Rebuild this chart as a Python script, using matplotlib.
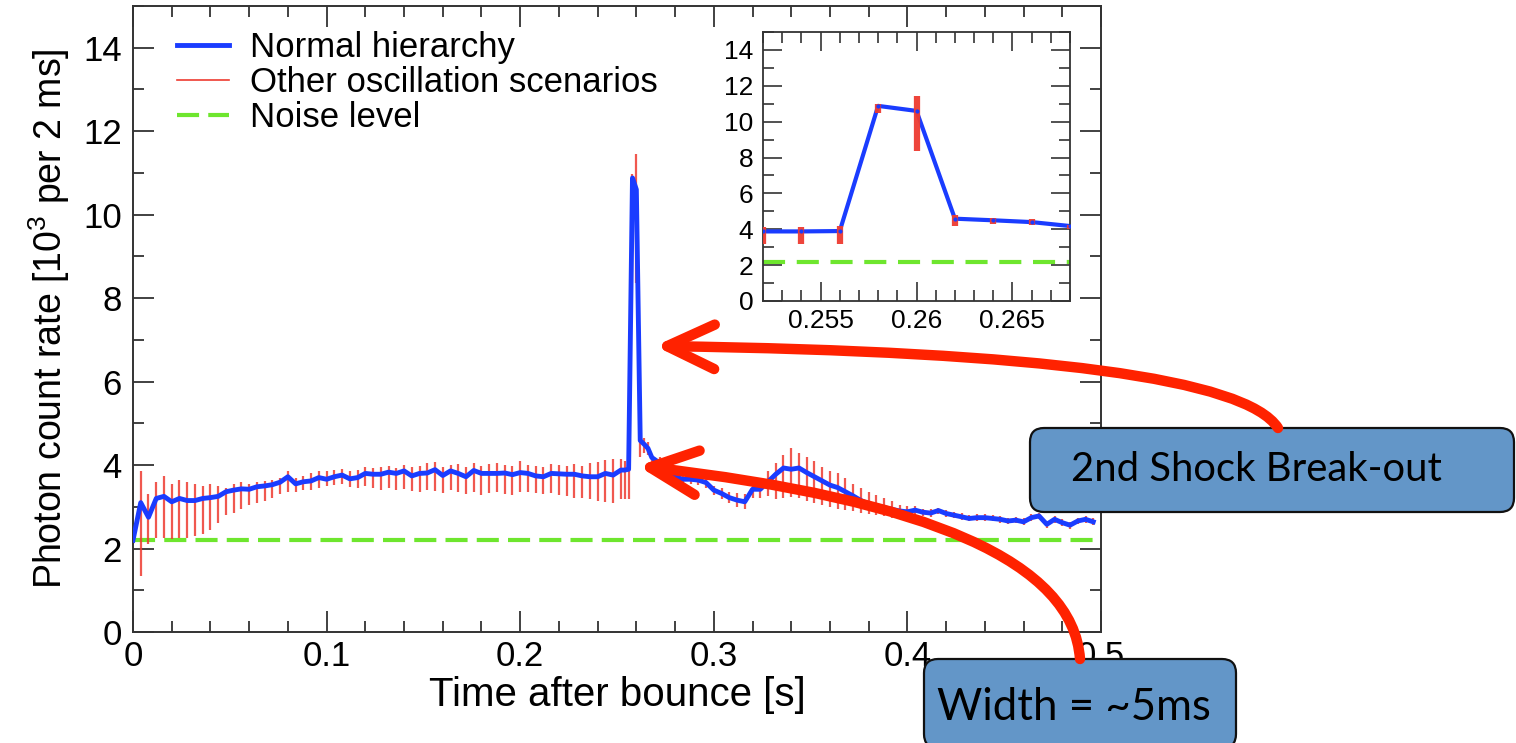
import numpy as np
import matplotlib
matplotlib.use("Agg")
import matplotlib.pyplot as plt
from matplotlib.patches import FancyArrowPatch, FancyBboxPatch
from matplotlib.path import Path
from matplotlib.transforms import IdentityTransform
from matplotlib.ticker import MultipleLocator, FixedLocator, FormatStrFormatter

plt.rcParams['font.family'] = ['Liberation Sans', 'DejaVu Sans']
plt.rcParams['mathtext.fontset'] = 'custom'
plt.rcParams['mathtext.rm'] = 'Liberation Sans'
plt.rcParams['mathtext.default'] = 'regular'

# time bins (s): 4 ms steps, 2 ms steps around the break-out peak
time = np.concatenate([
    np.arange(0, 0.2521, 0.004),
    [0.254, 0.256, 0.258, 0.260, 0.262, 0.264, 0.266, 0.268],
    np.arange(0.272, 0.4961, 0.004),
])

# normal hierarchy count rate [10^3 per 2 ms]
normal = [
    2.20, 3.10, 2.75, 3.20, 3.25, 3.12, 3.20, 3.15, 3.15, 3.20,
    3.22, 3.25, 3.36, 3.40, 3.43, 3.42, 3.48, 3.50, 3.53, 3.59,
    3.72, 3.55, 3.60, 3.62, 3.70, 3.66, 3.72, 3.76, 3.67, 3.70,
    3.80, 3.78, 3.78, 3.83, 3.80, 3.86, 3.74, 3.80, 3.81, 3.89,
    3.75, 3.86, 3.80, 3.72, 3.87, 3.80, 3.80, 3.80, 3.81, 3.77,
    3.82, 3.80, 3.74, 3.72, 3.80, 3.79, 3.78, 3.78, 3.74, 3.72,
    3.72, 3.80, 3.76, 3.88,
    3.88, 3.90, 10.88, 10.60, 4.59, 4.50, 4.40, 4.18,
    4.05, 3.85, 3.72, 3.66, 3.66, 3.64, 3.58, 3.40, 3.32, 3.22,
    3.16, 3.12, 3.42, 3.42, 3.60, 3.78, 3.93, 3.90, 3.93, 3.82,
    3.72, 3.62, 3.52, 3.46, 3.36, 3.26, 3.15, 3.07, 3.03, 2.98,
    2.94, 2.90, 2.88, 2.92, 2.87, 2.85, 2.91, 2.84, 2.80, 2.76,
    2.72, 2.74, 2.74, 2.72, 2.70, 2.66, 2.68, 2.64, 2.74, 2.78,
    2.58, 2.70, 2.62, 2.56, 2.66, 2.70, 2.64,
]

# range covered by the other oscillation scenarios
other_lo = [
    2.10, 1.35, 2.10, 2.25, 2.25, 2.22, 2.25, 2.25, 2.30, 2.35,
    2.45, 2.60, 2.80, 2.85, 2.95, 3.05, 3.10, 3.15, 3.20, 3.30,
    3.35, 3.35, 3.40, 3.40, 3.45, 3.50, 3.52, 3.55, 3.48, 3.45,
    3.50, 3.45, 3.40, 3.45, 3.40, 3.42, 3.38, 3.35, 3.40, 3.38,
    3.32, 3.40, 3.35, 3.30, 3.35, 3.28, 3.32, 3.35, 3.30, 3.28,
    3.35, 3.35, 3.32, 3.30, 3.32, 3.28, 3.25, 3.22, 3.20, 3.18,
    3.15, 3.12, 3.10, 3.18,
    3.18, 3.18, 10.50, 8.37, 4.20, 4.30, 4.25, 4.00,
    3.95, 3.75, 3.60, 3.55, 3.55, 3.52, 3.45, 3.28, 3.18, 3.08,
    3.00, 2.95, 3.20, 3.20, 3.25, 3.18, 3.20, 3.24, 3.20, 3.15,
    3.10, 3.05, 3.00, 2.95, 2.92, 2.90, 2.85, 2.82, 2.80, 2.78,
    2.74, 2.72, 2.75, 2.80, 2.78, 2.76, 2.82, 2.76, 2.72, 2.68,
    2.65, 2.67, 2.67, 2.65, 2.62, 2.58, 2.60, 2.56, 2.66, 2.70,
    2.50, 2.62, 2.55, 2.48, 2.58, 2.62, 2.56,
]
other_hi = [
    2.30, 3.85, 3.30, 3.60, 3.73, 3.55, 3.65, 3.60, 3.55, 3.50,
    3.55, 3.50, 3.45, 3.55, 3.60, 3.55, 3.60, 3.62, 3.65, 3.70,
    3.85, 3.70, 3.75, 3.80, 3.85, 3.85, 3.88, 3.90, 3.85, 3.88,
    3.95, 3.92, 3.95, 3.98, 3.92, 4.00, 3.95, 3.98, 4.05, 4.08,
    3.95, 4.00, 4.02, 3.95, 4.05, 3.98, 4.02, 4.05, 4.00, 3.98,
    4.10, 4.00, 3.98, 3.95, 4.02, 4.00, 3.98, 4.02, 3.98, 4.05,
    4.08, 4.12, 4.15, 4.15,
    4.10, 4.20, 10.98, 11.45, 4.80, 4.65, 4.56, 4.25,
    4.20, 3.95, 3.82, 3.75, 3.75, 3.75, 3.70, 3.50, 3.45, 3.35,
    3.32, 3.30, 3.55, 3.60, 3.85, 4.05, 4.25, 4.40, 4.30, 4.20,
    4.10, 3.95, 3.85, 3.80, 3.70, 3.55, 3.45, 3.35, 3.28, 3.20,
    3.15, 3.05, 3.02, 3.02, 2.95, 2.94, 2.98, 2.92, 2.88, 2.84,
    2.80, 2.82, 2.82, 2.80, 2.78, 2.74, 2.76, 2.72, 2.82, 2.86,
    2.66, 2.78, 2.70, 2.64, 2.74, 2.78, 2.72,
]

noise_level = 2.2

t = np.array(time)
y = np.array(normal)
lo = np.array(other_lo)
hi = np.array(other_hi)

W, H = 1516, 743
fig = plt.figure(figsize=(W / 100, H / 100), dpi=100)
fig.patch.set_facecolor('white')

BLUE = '#1a3cff'
RED = '#ee3b30'
GREEN = '#6ee62e'
SPINE = '#333333'

# ---- main panel
ax = fig.add_axes([133 / W, 1 - 632 / H, (1101 - 133) / W, (632 - 6) / H])
ax.vlines(t, lo, hi, color=RED, lw=1.6, alpha=0.85, zorder=2)
ax.plot(t, y, color=BLUE, lw=3.5, zorder=3, label='Normal hierarchy')
ax.plot([], [], color=RED, lw=1.2, label='Other oscillation scenarios')
ax.axhline(noise_level, color=GREEN, lw=3, dashes=(5.3, 2.2), zorder=1,
           label='Noise level')
ax.set_xlim(0, 0.5)
ax.set_ylim(0, 15)
ax.xaxis.set_major_locator(MultipleLocator(0.1))
ax.xaxis.set_minor_locator(MultipleLocator(0.02))
ax.xaxis.set_major_formatter(FormatStrFormatter('%g'))
ax.yaxis.set_major_locator(FixedLocator(np.arange(0, 15, 2)))
ax.yaxis.set_minor_locator(MultipleLocator(1))
ax.tick_params(which='both', direction='in', top=True, right=True,
               color=SPINE, width=1.3, labelsize=25)
ax.tick_params(which='major', length=15)
ax.tick_params(which='minor', length=8)
ax.tick_params(axis='y', pad=8)
ax.tick_params(axis='x', pad=6)
for s in ax.spines.values():
    s.set_color(SPINE)
    s.set_linewidth(1.4)
ax.set_xlabel('Time after bounce [s]', fontsize=29, labelpad=2)
ax.set_ylabel(r'Photon count rate [10$^3$ per 2 ms]', fontsize=27, labelpad=8)
ax.legend(loc='upper left', bbox_to_anchor=(0.031, 0.982), borderaxespad=0,
          frameon=False, fontsize=25, handlelength=1.5, handletextpad=0.6,
          labelspacing=0.06)

# ---- inset zoom on the break-out peak
ins = fig.add_axes([763 / W, 1 - 301 / H, (1070 - 763) / W, (301 - 32) / H])
m = (t > 0.2515) & (t < 0.2685)
ins.plot(t[m], y[m], color=BLUE, lw=3, zorder=2)
ins.vlines(t[m], lo[m], hi[m], color=RED, lw=4.5, alpha=0.95, zorder=3)
ins.plot(t[m], y[m], 'o', color=BLUE, ms=2, zorder=4)
ins.axhline(noise_level, color=GREEN, lw=3, dashes=(5.3, 2.8), zorder=1)
ins.set_xlim(0.252, 0.268)
ins.set_ylim(0, 15)
ins.xaxis.set_major_locator(FixedLocator([0.255, 0.26, 0.265]))
ins.xaxis.set_minor_locator(MultipleLocator(0.001))
ins.xaxis.set_major_formatter(FormatStrFormatter('%g'))
ins.yaxis.set_major_locator(FixedLocator(np.arange(0, 15, 2)))
ins.yaxis.set_minor_locator(MultipleLocator(1))
ins.tick_params(which='both', direction='in', top=True, right=True,
                color=SPINE, width=1.2, labelsize=19)
ins.tick_params(which='major', length=14)
ins.tick_params(which='minor', length=8)
ins.tick_params(axis='y', pad=7)
ins.tick_params(axis='x', pad=6)
for s in ins.spines.values():
    s.set_color(SPINE)
    s.set_linewidth(1.3)


# ---- slide annotations (pixel positions, origin top-left)
def fp(x, yy):
    return (x / W, 1 - yy / H)


def add_box(x0, y0, x1, y1):
    box = FancyBboxPatch((x0, H - y1), x1 - x0, y1 - y0,
                         boxstyle='round,pad=0,rounding_size=14',
                         facecolor='#6396c8', edgecolor='#111111', lw=1.6,
                         transform=IdentityTransform(), zorder=10)
    fig.add_artist(box)


def add_arrow(p0, pc, p1):
    path = Path([fp(*p0), fp(*pc), fp(*p1)],
                [Path.MOVETO, Path.CURVE3, Path.CURVE3])
    arr = FancyArrowPatch(path=path, transform=fig.transFigure,
                          arrowstyle='->,head_length=0.85,head_width=0.4',
                          mutation_scale=40, color='#ff2200', lw=7.5,
                          capstyle='round', joinstyle='round', zorder=11)
    fig.add_artist(arr)


add_arrow((1278, 428), (1230, 354), (655, 346))
add_arrow((1080, 659), (1070, 515), (638, 466))

add_box(1030, 428, 1514, 512)
add_box(924, 659, 1236, 748)
fig.text(*fp(1071, 470), '2nd Shock Break-out', fontsize=28.8, family='Lato',
         va='center', ha='left', color='black', zorder=12)
fig.text(*fp(937, 708), 'Width = ~5ms', fontsize=31.5, family='Lato',
         va='center', ha='left', color='black', zorder=12)

fig.savefig('out.png', dpi=100)
